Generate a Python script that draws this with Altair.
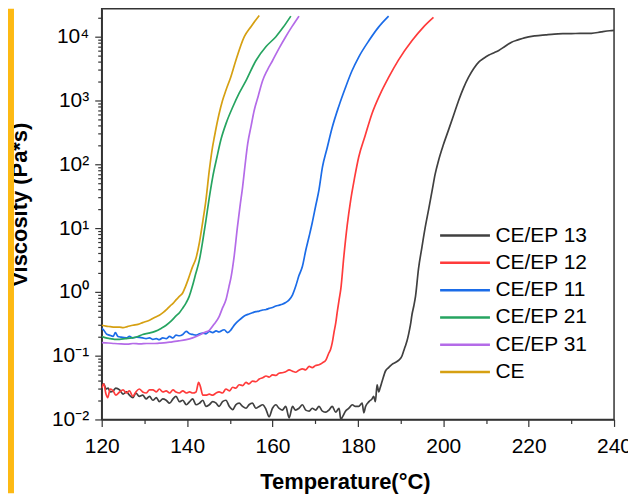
import altair as alt
import pandas as pd

SERIES = ["CE/EP 13", "CE/EP 12", "CE/EP 11", "CE/EP 21", "CE/EP 31", "CE"]
COLORS = ["#404040", "#FF3B3B", "#1B6CE8", "#26A460", "#B46BE8", "#D6A012"]

T_13 = [120, 120.5, 121, 121.5, 122, 122.7, 123.3, 124.2, 125, 125.8, 126.5, 127.3, 128, 128.8, 129.6,
        130.4, 131.2, 132, 132.8, 133.5, 134.3, 135.1, 135.9, 136.7, 137.4, 138.2, 139, 139.8, 140.6,
        141.3, 142.1, 142.9, 143.7, 144.4, 145.2, 146, 146.8, 147.5, 148.3, 149.1, 149.9, 150.7, 151.4,
        152.2, 153, 153.8, 154.5, 155.3, 156.1, 156.9, 157.7, 158.5, 159.2, 160, 160.8, 161.5, 162.3,
        163.1, 163.9, 164.7, 165.4, 166.2, 167, 167.8, 168.6, 169.3, 170.1, 170.9, 171.7, 172.5, 173.2,
        174, 174.8, 175.6, 176, 176.4, 177.1, 177.9, 178.7, 179.4, 180.2, 181, 181.4, 181.8, 182.6,
        183.3, 183.7, 184.1, 184.5, 184.9, 185.2, 185.7, 186.5, 187.2, 188, 188.8, 189.6, 190.3, 190.7,
        191.1, 191.5, 191.9, 192.3, 192.7, 193.1, 193.5, 194.2, 195, 195.8, 196.6, 197.4, 198.1, 198.9,
        200, 201.2, 202.4, 203.6, 204.7, 205.9, 207.1, 208.3, 209.5, 210.7, 212, 213, 214.5, 216, 217.5,
        219, 221.5, 224, 226, 228, 230, 232, 234.7, 237, 239, 240]
V_13 = [0.033, 0.036, 0.030, 0.031, 0.027, 0.028, 0.031, 0.029, 0.025, 0.027, 0.024, 0.022, 0.026, 0.023, 0.024,
        0.021, 0.023, 0.020, 0.022, 0.019, 0.021, 0.020, 0.018, 0.021, 0.023, 0.019, 0.020, 0.017, 0.019,
        0.021, 0.017, 0.018, 0.020, 0.016, 0.017, 0.019, 0.018, 0.016, 0.019, 0.020, 0.016, 0.0143, 0.017,
        0.018, 0.016, 0.015, 0.017, 0.018, 0.015, 0.016, 0.017, 0.0143, 0.011, 0.015, 0.017, 0.015, 0.014,
        0.016, 0.0106, 0.016, 0.014, 0.015, 0.017, 0.014, 0.0135, 0.015, 0.014, 0.016, 0.0135, 0.013, 0.014,
        0.016, 0.013, 0.015, 0.010, 0.011, 0.0135, 0.015, 0.017, 0.016, 0.016, 0.018, 0.0127, 0.016, 0.019,
        0.021, 0.023, 0.019, 0.035, 0.027, 0.031, 0.040, 0.058, 0.065, 0.073, 0.078, 0.085, 0.098, 0.117,
        0.14, 0.17, 0.22, 0.30, 0.45, 0.6, 0.85, 2.3, 5.0, 10.5, 20, 39, 70, 115,
        200, 340, 580, 1000, 1550, 2300, 3150, 4000, 4600, 5150, 5650, 6100, 7100, 8200, 8900,
        9600, 10300, 10700, 11000, 11150, 11200, 11250, 11300, 11900, 12400, 12600]

T_12 = [120, 120.5, 121, 121.4, 122, 122.7, 123.3, 124.2, 125, 125.8, 126.5, 127.3, 128, 128.8, 129.6,
        130.4, 131.2, 132, 132.8, 133.5, 134.3, 135.1, 135.9, 136.7, 137.4, 138.2, 139, 139.8, 140.6,
        141.3, 142.1, 142.7, 143.1, 143.7, 144.4, 145.2, 146, 146.8, 147.5, 148.3, 149.1, 149.9, 150.7,
        151.4, 152.2, 153, 153.8, 154.5, 155.3, 156.1, 156.9, 157.7, 158.5, 159.2, 160, 160.8, 161.5,
        162.3, 163.1, 163.9, 164.7, 165.4, 166.2, 167, 167.8, 168.6, 169.3, 170.1, 170.9, 171.7, 172.5,
        173.2, 173.6, 174, 174.4, 174.8, 175.2, 175.6, 176, 176.7, 177.5, 178.3, 179.2, 180.2, 181.7,
        183.3, 185.2, 187.2, 189.5, 192.7, 195.3, 197.7]
V_12 = [0.031, 0.036, 0.025, 0.022, 0.030, 0.028, 0.024, 0.027, 0.029, 0.026, 0.028, 0.023, 0.027, 0.030, 0.027,
        0.026, 0.029, 0.029, 0.027, 0.030, 0.027, 0.028, 0.026, 0.029, 0.027, 0.026, 0.028, 0.026, 0.027,
        0.026, 0.027, 0.038, 0.033, 0.024, 0.024, 0.025, 0.024, 0.026, 0.027, 0.026, 0.030, 0.028, 0.032,
        0.031, 0.035, 0.034, 0.038, 0.036, 0.040, 0.039, 0.043, 0.045, 0.048, 0.046, 0.050, 0.049, 0.053,
        0.054, 0.056, 0.060, 0.057, 0.055, 0.059, 0.062, 0.060, 0.068, 0.065, 0.070, 0.072, 0.077, 0.085,
        0.11, 0.125, 0.16, 0.23, 0.32, 0.5, 0.75, 1.1, 3.5, 11, 27, 60, 130, 280,
        620, 1250, 2300, 4300, 8700, 14000, 20000]

T_11 = [120, 120.5, 121.1, 121.8, 122.7, 123.2, 123.8, 124.5, 125.8, 126.5, 127.3, 128.2, 129.6, 130.4,
        131.2, 132, 132.8, 133.5, 134.3, 135.1, 135.9, 136.7, 137.4, 138.2, 139, 139.8, 140.6, 141.3,
        142.1, 142.9, 143.7, 144.4, 145.2, 146, 146.8, 147.5, 148.3, 148.7, 149.5, 150.2, 150.7, 151.4,
        152.2, 153, 153.7, 154.5, 155.3, 156.1, 156.9, 157.7, 158.5, 159.2, 160, 160.8, 161.6, 162.3,
        163.1, 163.9, 164.7, 165.4, 166.2, 167, 167.8, 168.6, 169.3, 170.1, 170.9, 171.7, 172.8, 174,
        175.5, 177.1, 178.6, 180.2, 182.6, 184.8, 187.2]
V_11 = [0.27, 0.25, 0.22, 0.21, 0.20, 0.23, 0.20, 0.195, 0.19, 0.20, 0.19, 0.195, 0.19, 0.185,
        0.19, 0.18, 0.185, 0.178, 0.19, 0.185, 0.20, 0.19, 0.21, 0.205, 0.215, 0.24, 0.22, 0.215,
        0.21, 0.22, 0.225, 0.22, 0.24, 0.23, 0.245, 0.235, 0.25, 0.255, 0.23, 0.25, 0.28, 0.32,
        0.36, 0.40, 0.43, 0.45, 0.47, 0.49, 0.50, 0.52, 0.53, 0.55, 0.57, 0.60, 0.62, 0.64,
        0.68, 0.75, 0.9, 1.2, 1.8, 2.5, 4.5, 7.5, 12, 22, 40, 90, 180, 380,
        800, 1600, 2900, 4800, 8700, 14000, 21000]

T_21 = [120, 121, 122, 123, 124.2, 125.5, 127, 128.5, 129.6, 131, 132.5, 134, 135.1, 136.3, 137.4, 138.2,
        139, 139.8, 140.5, 141.2, 142, 142.9, 143.7, 144.4, 145.2, 146, 147, 147.9, 149.2, 150.7, 152.2,
        153.8, 156.1, 158.5, 160.8, 162.5, 164.3]
V_21 = [0.20, 0.19, 0.185, 0.18, 0.18, 0.185, 0.19, 0.20, 0.215, 0.225, 0.24, 0.27, 0.30, 0.35, 0.42, 0.47,
        0.56, 0.68, 0.85, 1.2, 1.9, 3.2, 6.5, 13, 30, 63, 130, 240, 450, 790, 1300,
        2050, 4200, 7000, 10000, 14000, 21000]

T_31 = [120, 121.5, 123, 124.5, 126, 127.3, 129, 130.5, 132, 133.5, 135.1, 136.5, 138, 139.8, 141.3, 142.9,
        144, 145.2, 146.3, 147.5, 148.3, 149.1, 149.8, 150.3, 151, 151.8, 152.4, 153, 153.6, 154.2, 155,
        155.7, 156.7, 157.7, 158.8, 160, 161.5, 163.1, 164.6, 166.2]
V_31 = [0.16, 0.158, 0.155, 0.153, 0.152, 0.155, 0.153, 0.155, 0.155, 0.157, 0.16, 0.165, 0.17, 0.178, 0.19, 0.21,
        0.23, 0.25, 0.31, 0.41, 0.56, 0.75, 1.2, 1.7, 3.5, 10.5, 22, 44, 100, 210, 400,
        690, 1200, 2050, 3000, 4200, 6500, 10000, 14500, 21000]

T_CE = [120, 121, 122, 123, 124.2, 125, 126, 127.3, 128.5, 129.6, 131.2, 132.5, 133.5, 134.5, 135.1, 136,
        136.7, 137.4, 138.2, 139, 139.6, 140.3, 141.2, 142.1, 142.9, 143.7, 144.4, 145.2, 145.8, 146.4,
        147.5, 148.3, 149.1, 150.2, 151.4, 153.4, 155, 156.9]
V_CE = [0.30, 0.29, 0.285, 0.28, 0.28, 0.275, 0.285, 0.30, 0.31, 0.33, 0.36, 0.40, 0.43, 0.48, 0.52, 0.6,
        0.66, 0.75, 0.85, 0.97, 1.2, 1.6, 2.4, 3.4, 6, 13, 27, 80, 160, 270,
        620, 1000, 1450, 2300, 4200, 10000, 14500, 21500]

SERIES_DATA = [(T_13, V_13), (T_12, V_12), (T_11, V_11), (T_21, V_21), (T_31, V_31), (T_CE, V_CE)]

X_TICKS = [120, 130, 140, 150, 160, 170, 180, 190, 200, 210, 220, 230, 240]
DECADES = [0.01, 0.1, 1.0, 10.0, 100.0, 1000.0, 10000.0]
DECADE_LABELS = ["10⁻²", "10⁻¹", "10⁰", "10¹", "10²", "10³", "10⁴"]
Y_MAX = 27384

rows = []
for name, (ts, vs) in zip(SERIES, SERIES_DATA):
    for i, (t, v) in enumerate(zip(ts, vs)):
        rows.append({"series": name, "T": t, "V": v, "i": i})
df = pd.DataFrame(rows)

y_ticks = []
for d in DECADES:
    for m in range(1, 10):
        val = round(m * d, 6)
        if val <= Y_MAX:
            y_ticks.append(val)

y_label_expr = ""
for d, lab in zip(DECADES, DECADE_LABELS):
    y_label_expr += f"abs(datum.value - {d}) < {d}*1e-6 ? '{lab}' : "
y_label_expr += "''"
decade_test = " || ".join(f"abs(datum.value - {d}) < {d}*1e-6" for d in DECADES)

FONT = "Liberation Sans"

lines = alt.Chart(df).mark_line(strokeWidth=1.7, clip=True, interpolate="monotone").encode(
    x=alt.X("T:Q", scale=alt.Scale(domain=[120, 240], nice=False),
            axis=alt.Axis(values=X_TICKS, title="Temperature(°C)",
                          labelExpr="datum.value % 20 == 0 ? datum.label : ''",
                          tickSize={"condition": {"test": "datum.value % 20 == 0", "value": 7}, "value": 4},
                          labelFlush=False, labelOverlap=False,
                          labelPadding=9, titleX=244, titleY=69, titleBaseline="alphabetic",
                          titleAlign="center")),
    y=alt.Y("V:Q", scale=alt.Scale(type="log", domain=[0.01, Y_MAX], nice=False),
            axis=alt.Axis(values=y_ticks, title="Viscosity (Pa*s)", labelExpr=y_label_expr,
                          tickSize={"condition": {"test": decade_test, "value": 7}, "value": 4},
                          labelFlush=False, labelOverlap=False,
                          labelPadding=6, titleX=-70, titleY=196, titleAngle=270,
                          titleBaseline="bottom", titleAlign="center")),
    color=alt.Color("series:N", scale=alt.Scale(domain=SERIES, range=COLORS),
                    legend=alt.Legend(title=None, orient="none", legendX=338, legendY=215,
                                      symbolType="stroke", symbolSize=2500, symbolStrokeWidth=2.5,
                                      labelFontSize=21, labelFont=FONT, labelColor="#000",
                                      clipHeight=25, rowPadding=2.4, labelOffset=4, padding=0,
                                      labelLimit=0)),
    order="i:Q",
    detail="series:N",
)

strip = alt.Chart(pd.DataFrame({"a": [0]})).mark_rect(color="#FDB913").encode(
    x=alt.value(-94), x2=alt.value(-88), y=alt.value(0), y2=alt.value(486)
)

chart = alt.layer(strip, lines).properties(
    width=514, height=412,
    autosize=alt.AutoSizeParams(type="none"),
    padding={"left": 94, "top": 0, "right": 14, "bottom": 74},
).configure_view(
    stroke="#333333", strokeWidth=1.5
).configure_axis(
    labelFont=FONT, labelFontSize=21, labelColor="#000",
    titleFont=FONT, titleFontSize=22, titleFontWeight="bold", titleColor="#000",
    domainColor="#333333", domainWidth=1.5, tickColor="#333333", tickWidth=1.2,
    grid=False,
)

chart.save("out.html", embed_options={"renderer": "svg", "actions": False})
